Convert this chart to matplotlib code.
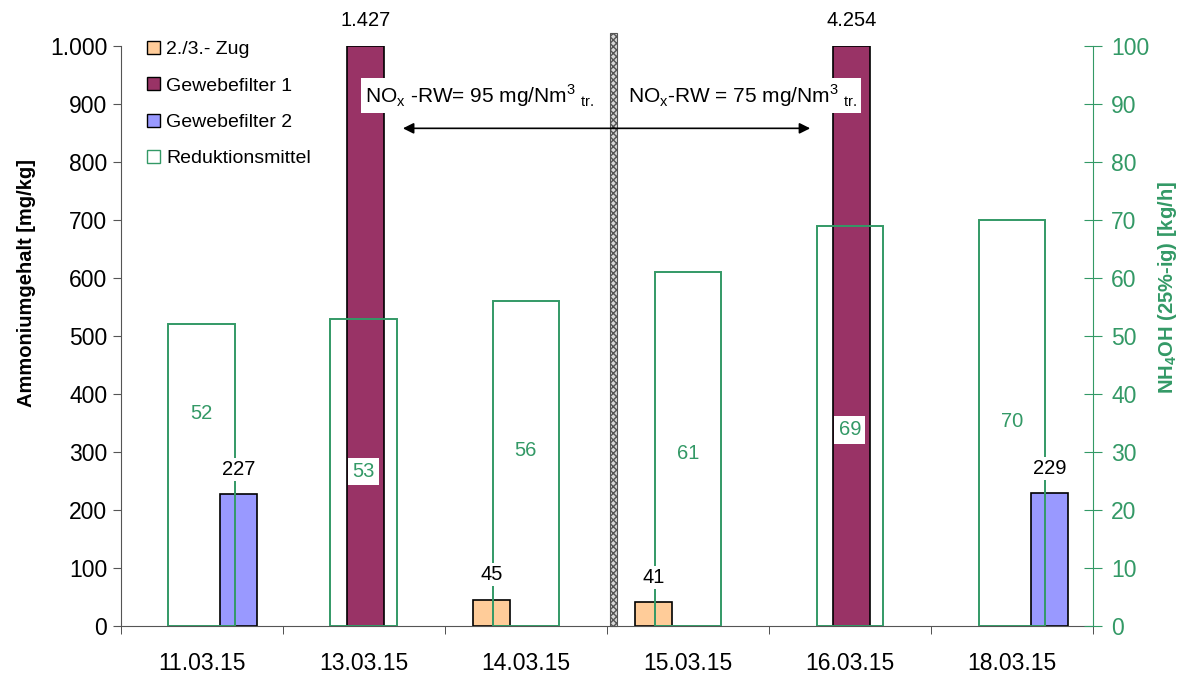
import numpy as np
import matplotlib
matplotlib.use('Agg')
import matplotlib.pyplot as plt
from matplotlib.patches import Patch, Rectangle
from matplotlib.ticker import FuncFormatter

plt.rcParams['font.family'] = ['Liberation Sans', 'DejaVu Sans']
plt.rcParams['mathtext.fontset'] = 'custom'
plt.rcParams['mathtext.rm'] = 'Liberation Sans'

# Messtage
dates = ['11.03.15', '13.03.15', '14.03.15', '15.03.15', '16.03.15', '18.03.15']

# Ammoniumgehalt [mg/kg] je Probenahmestelle (nan = keine Probe)
zug = [np.nan, np.nan, 45, 41, np.nan, np.nan]
gf1 = [np.nan, 1427, np.nan, np.nan, 4254, np.nan]
gf2 = [227, np.nan, np.nan, np.nan, np.nan, 229]

# Reduktionsmittel NH4OH (25%-ig) [kg/h]
red = [52, 53, 56, 61, 69, 70]

# Hoehe der Beschriftungen im Reduktionsmittel-Balken [kg/h]
red_label_y = [36.7, 26.6, 30.2, 29.8, 33.8, 35.2]

green = '#339966'
c_zug = '#FFCC99'
c_gf1 = '#993366'
c_gf2 = '#9999FF'

YMAX = 1000


def de_fmt(v):
    return f'{int(round(v)):,}'.replace(',', '.')


fig = plt.figure(figsize=(11.9, 6.75), dpi=100)
ax = fig.add_axes([0.1013, 0.0726, 0.8172, 0.8593])
ax2 = ax.twinx()

x = np.arange(len(dates))
w = 0.228
series = [(zug, c_zug, -0.21), (gf1, c_gf1, 0.01), (gf2, c_gf2, 0.23)]
for vals, col, off in series:
    ax.bar(x + off, np.minimum(vals, YMAX), width=w, color=col,
           edgecolor='black', linewidth=1.2, zorder=2)

ax2.bar(x, red, width=0.41, facecolor='none', edgecolor=green, linewidth=1.4)

ax.set_xlim(-0.5, 5.5)
ax.set_ylim(0, YMAX)
ax2.set_ylim(0, 100)

# Achsen
ax.set_xticks(x)
ax.set_xticklabels(dates, fontsize=16.5)
ax.set_xticks(np.arange(-0.5, 6.0, 1.0), minor=True)
ax.tick_params(axis='x', which='major', length=0, pad=19)
ax.tick_params(axis='x', which='minor', length=6, direction='out', color='#333333')
ax.set_yticks(np.arange(0, 1001, 100))
ax.yaxis.set_major_formatter(FuncFormatter(lambda v, p: de_fmt(v)))
ax.tick_params(axis='y', length=6, direction='out', labelsize=16.5, color='#555555')
ax.set_ylabel('Ammoniumgehalt [mg/kg]', fontsize=14.5, fontweight='bold', labelpad=10)
ax.yaxis.label.set_y(0.591)

ax2.set_yticks(np.arange(0, 101, 10))
ax2.tick_params(axis='y', length=13, direction='inout', labelsize=16.5,
                colors=green, pad=6.5)
ax2.set_ylabel(r'NH$_\mathregular{4}$OH (25%-ig) [kg/h]', fontsize=14.5,
               fontweight='bold', color=green, labelpad=5)
ax2.yaxis.label.set_y(0.584)

for a in (ax, ax2):
    a.spines['top'].set_visible(False)
ax.spines['right'].set_visible(False)
ax2.spines['left'].set_visible(False)
ax2.spines['bottom'].set_visible(False)
ax2.spines['right'].set_color(green)
ax.spines['left'].set_color('#555555')
ax.spines['bottom'].set_color('#555555')

# Trennlinie zwischen den beiden Betriebsphasen
ax2.add_patch(Rectangle((2.52, 0), 0.043, 1022, transform=ax.transData,
                        clip_on=False, facecolor='#d8d8d8', edgecolor='#555555',
                        hatch='xxxxx', linewidth=0.8, zorder=5))

# Pfeile fuer die NOx-Bereiche
for xe in (1.242, 3.755):
    ax2.annotate('', xy=(xe, 858), xytext=(2.54, 858), xycoords=ax.transData,
                 textcoords=ax.transData,
                 arrowprops=dict(arrowstyle='-|>', color='black', lw=1.2,
                                 mutation_scale=16, shrinkA=0, shrinkB=0),
                 zorder=6)

box = dict(facecolor='white', edgecolor='none', pad=3)
ax2.text(1.717, 915, r'NO$_\mathregular{x}$ -RW= 95 mg/Nm$^\mathregular{3}$$_\mathregular{\ tr.}$',
         transform=ax.transData, ha='center', va='center', fontsize=15,
         bbox=box, zorder=7)
ax2.text(3.334, 915, r'NO$_\mathregular{x}$-RW = 75 mg/Nm$^\mathregular{3}$$_\mathregular{\ tr.}$',
         transform=ax.transData, ha='center', va='center', fontsize=15,
         bbox=box, zorder=7)

# Wertbeschriftungen Ammoniumgehalt
for vals, col, off in series:
    for xi, v in zip(x, vals):
        if np.isnan(v):
            continue
        ax2.annotate(de_fmt(v), xy=(xi + off, min(v, YMAX)), xycoords=ax.transData,
                     xytext=(0, 18), textcoords='offset points', ha='center',
                     va='center', fontsize=14.5, annotation_clip=False,
                     bbox=dict(facecolor='white', edgecolor='none', pad=1.5),
                     zorder=8)

# Wertbeschriftungen Reduktionsmittel
for xi, v, ly in zip(x, red, red_label_y):
    ax2.text(xi, ly, str(v), ha='center', va='center', fontsize=14.5, color=green,
             bbox=dict(facecolor='white', edgecolor='none', pad=3), zorder=8)

handles = [Patch(facecolor=c_zug, edgecolor='black', label='2./3.- Zug'),
           Patch(facecolor=c_gf1, edgecolor='black', label='Gewebefilter 1'),
           Patch(facecolor=c_gf2, edgecolor='black', label='Gewebefilter 2'),
           Patch(facecolor='white', edgecolor=green, label='Reduktionsmittel')]
ax2.legend(handles=handles, loc='upper left', bbox_to_anchor=(0.117, 0.951),
           bbox_transform=fig.transFigure, frameon=False, fontsize=14,
           handlelength=0.65, handleheight=0.65, handletextpad=0.35,
           labelspacing=0.98, borderaxespad=0)

fig.savefig('out.png', dpi=100)
